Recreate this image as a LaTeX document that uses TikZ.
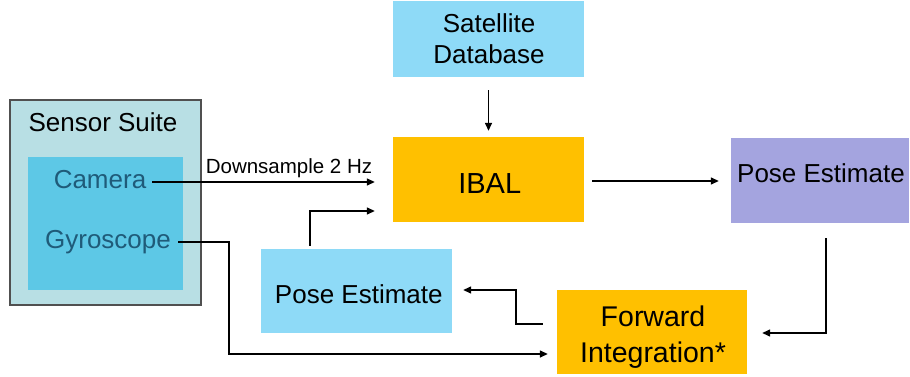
\documentclass[tikz,border=0pt]{standalone}
\usepackage{fontspec}
\setmainfont{Liberation Sans}
\usetikzlibrary{arrows.meta,calc}
\definecolor{suiteouter}{HTML}{B8DFE4}
\definecolor{suiteinner}{HTML}{5DC8E6}
\definecolor{lightblue}{HTML}{8EDAF7}
\definecolor{ibalorange}{HTML}{FFC000}
\definecolor{lavender}{HTML}{A4A4DF}
\definecolor{sensortext}{HTML}{1F5B79}
\definecolor{suiteborder}{HTML}{505050}
\tikzset{
  box/.style={rectangle, inner sep=0pt, draw=none},
  txt/.style={anchor=base, inner sep=0pt, font=\fontsize{26}{31}\selectfont},
  bigtxt/.style={anchor=base, inner sep=0pt, font=\fontsize{28.5}{33}\selectfont},
  smalltxt/.style={anchor=base, inner sep=0pt, font=\fontsize{20.5}{24}\selectfont},
  conn/.style={draw=black, line width=1.4pt, -{Triangle[length=8pt,width=7pt]}}
}
\begin{document}
\begin{tikzpicture}[x=1pt,y=-1pt]
\useasboundingbox (0,0) rectangle (910,377);

% boxes
\node[box, fill=suiteouter, draw=suiteborder, line width=1.2pt, minimum width=191, minimum height=205] (suite) at (105.5,202.5) {};
\node[box, fill=suiteinner, minimum width=155, minimum height=133] (inner) at (105.5,223.5) {};
\node[box, fill=lightblue, minimum width=191, minimum height=76] (sat) at (488.5,39) {};
\node[box, fill=ibalorange, minimum width=191, minimum height=85] (ibal) at (488.5,179.5) {};
\node[box, fill=lavender, minimum width=178, minimum height=85] (ptr) at (820,180.5) {};
\node[box, fill=lightblue, minimum width=191, minimum height=84] (pl) at (356.5,291) {};
\node[box, fill=ibalorange, minimum width=190, minimum height=84] (fi) at (652,332) {};

% texts
\node[txt] (suitetxt) at (103,131.5) {Sensor Suite};
\node[txt, text=sensortext] (cam) at (100,188) {Camera};
\node[txt, text=sensortext] (gyro) at (108,248) {Gyroscope};
\node[smalltxt] (down) at (289,173) {Downsample 2 Hz};
\node[txt] (sat1) at (489,32.7) {Satellite};
\node[txt] (sat2) at (489,64) {Database};
\node[anchor=base, inner sep=0pt, font=\fontsize{29}{34}\selectfont] (ibaltxt) at (489.7,193) {IBAL};
\node[txt] (ptrtxt) at (821,182.7) {Pose Estimate};
\node[txt] (pltxt) at (358.8,303) {Pose Estimate};
\node[bigtxt] (fi1) at (653,326.7) {Forward};
\node[bigtxt] (fi2) at (653,362.7) {Integration*};

% connectors
\draw[conn] ($(cam.base east)+(6,-6)$) -- ($(ibal.west)+(-18,2.5)$);
\draw[conn] ($(gyro.base east)+(7,-6)$) -- ++(51,0) |- ($(fi.west)+(-9,22)$);
\draw[conn] ($(sat.south)+(0,13)$) -- ($(ibal.north)+(0,-6)$);
\draw[conn] ($(ibal.east)+(8,1.5)$) -- ($(ptr.west)+(-12,0.5)$);
\draw[conn] ($(ptr.south)+(6,15)$) |- ($(fi.east)+(15,1)$);
\draw[conn] ($(fi.west)+(-14,-8)$) -- ++(-27,0) |- ($(pl.east)+(11,-1)$);
\draw[conn] ($(pl.north)+(-46.5,-3)$) |- ($(ibal.west)+(-18,31.5)$);
\end{tikzpicture}
\end{document}
